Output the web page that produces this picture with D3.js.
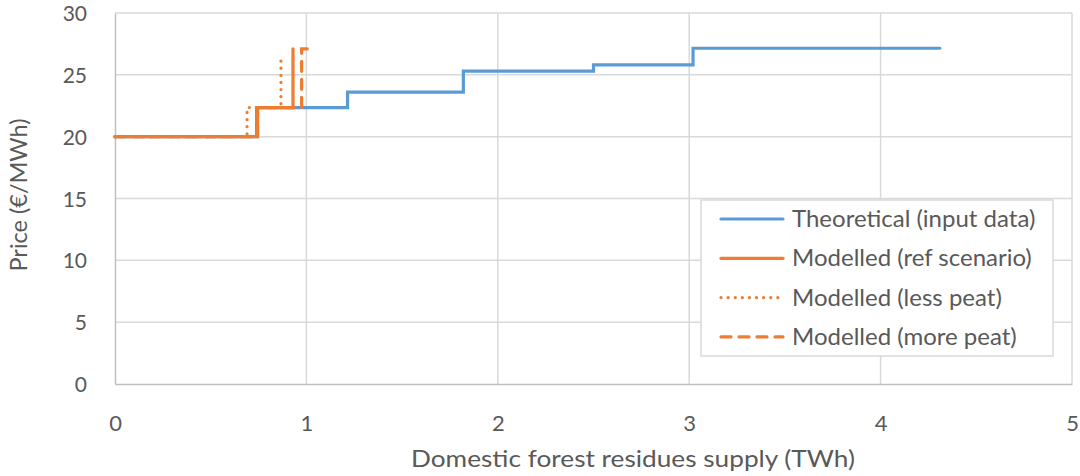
<!DOCTYPE html>
<html><head><meta charset="utf-8">
<script src="https://cdn.jsdelivr.net/npm/d3@7"></script>
<style>
html,body{margin:0;padding:0;background:#fff;}
svg text{font-family:Lato, "Open Sans", sans-serif; fill:#595959;}
</style></head>
<body><svg id="c" width="1080" height="476"></svg>
<script>
// Data (supply TWh, price €/MWh) as step-curve vertices
const theoreticalX = [0, 0.74, 0.74, 1.215, 1.215, 1.82, 1.82, 2.50, 2.50, 3.02, 3.02, 4.31];
const theoreticalY = [20, 20, 22.35, 22.35, 23.6, 23.6, 25.3, 25.3, 25.8, 25.8, 27.15, 27.15];
const refX = [0, 0.745, 0.745, 0.93, 0.93];
const refY = [20, 20, 22.35, 22.35, 27.1];
const lessPeatX = [0, 0.69, 0.69, 0.867, 0.867];
const lessPeatY = [20, 20, 22.35, 22.35, 26.5];
const morePeatX = [0, 0.745, 0.745, 0.975, 0.975, 1.032];
const morePeatY = [20, 20, 22.35, 22.35, 27.1, 27.1];
const xTicks = [0, 1, 2, 3, 4, 5];
const yTicks = [0, 5, 10, 15, 20, 25, 30];
const seriesNames = ["Theoretical (input data)", "Modelled (ref scenario)", "Modelled (less peat)", "Modelled (more peat)"];
const xTitle = "Domestic forest residues supply (TWh)";
const yTitle = "Price (€/MWh)";

const svg = d3.select("#c");
const L = 115, R = 1072, T = 13, B = 384;
const x = d3.scaleLinear().domain([0, 5]).range([L, R]);
const y = d3.scaleLinear().domain([0, 30]).range([B, T]);

// gridlines
const g = svg.append("g");
g.selectAll("line.h").data(yTicks.filter(d => d > 0)).enter().append("line")
  .attr("x1", L).attr("x2", R).attr("y1", d => y(d)).attr("y2", d => y(d))
  .attr("stroke", "#d9d9d9").attr("stroke-width", 1.5);
g.selectAll("line.v").data(xTicks.filter(d => d > 0)).enter().append("line")
  .attr("y1", T).attr("y2", B).attr("x1", d => x(d)).attr("x2", d => x(d))
  .attr("stroke", "#d9d9d9").attr("stroke-width", 1.5);

// axes
const xAxis = svg.append("g").attr("transform", `translate(0,${B})`)
  .call(d3.axisBottom(x).tickValues(xTicks).tickSize(0).tickPadding(31).tickFormat(d3.format("d")));
const yAxis = svg.append("g").attr("transform", `translate(${L},0)`)
  .call(d3.axisLeft(y).tickValues(yTicks).tickSize(0).tickPadding(28).tickFormat(d3.format("d")));
[xAxis, yAxis].forEach(a => {
  a.select(".domain").attr("stroke", "#bfbfbf").attr("stroke-width", 1.5);
  a.selectAll("text").style("font-size", "22px").style("fill", "#595959").style("font-family", "Lato, sans-serif");
});
yAxis.selectAll("text").style("font-size", "21px").attr("dy", "0.36em");

svg.append("text").attr("x", 633).attr("y", 467).attr("text-anchor", "middle")
  .attr("textLength", 444).attr("lengthAdjust", "spacingAndGlyphs")
  .style("font-size", "24px").text(xTitle);
svg.append("text").attr("transform", "translate(27,195) rotate(-90)").attr("text-anchor", "middle")
  .style("font-size", "23.5px").text(yTitle);

const blue = "#5b9bd5", orange = "#ed7d31";
const series = [
  {xs: theoreticalX, ys: theoreticalY, color: blue, dash: null},
  {xs: refX, ys: refY, color: orange, dash: null},
  {xs: lessPeatX, ys: lessPeatY, color: orange, dash: "0.1,7"},
  {xs: morePeatX, ys: morePeatY, color: orange, dash: "10,8"}
];
const line = d3.line().x(d => x(d[0])).y(d => y(d[1]));
series.forEach(s => {
  const pts = s.xs.map((v, i) => [v, s.ys[i]]);
  svg.append("path").attr("d", line(pts)).attr("fill", "none")
    .attr("stroke", s.color).attr("stroke-width", 3.2)
    .attr("stroke-linecap", "round").attr("stroke-linejoin", "miter")
    .attr("stroke-dasharray", s.dash);
});

// legend
const lg = svg.append("g");
lg.append("rect").attr("x", 701).attr("y", 200).attr("width", 352).attr("height", 156)
  .attr("fill", "#fff").attr("stroke", "#d9d9d9").attr("stroke-width", 1.5);
series.forEach((s, i) => {
  const cy = 219 + i * 39.3;
  lg.append("line").attr("x1", 721).attr("x2", 783).attr("y1", cy).attr("y2", cy)
    .attr("stroke", s.color).attr("stroke-width", 3.2).attr("stroke-linecap", "round")
    .attr("stroke-dasharray", s.dash);
  lg.append("text").attr("x", 792).attr("y", cy + 8).style("font-size", "24px").text(seriesNames[i]);
});
</script></body></html>
